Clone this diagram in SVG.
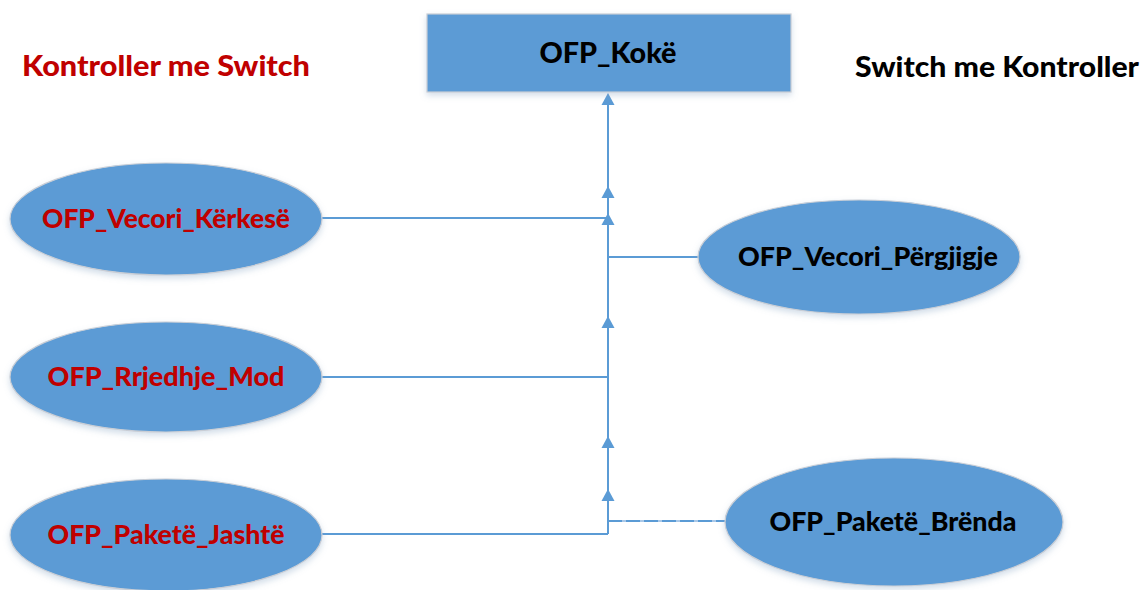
<svg xmlns="http://www.w3.org/2000/svg" xmlns:xlink="http://www.w3.org/1999/xlink" width="1147" height="590" viewBox="0 0 1147 590">
  <style>
    .shape { fill: #5B9BD5; stroke: #C9CED6; stroke-width: 1.2; filter: url(#soft); }
    .lbl { font-family: Lato, "Liberation Sans", sans-serif; font-weight: 900; text-anchor: middle; }
    .red { fill: #C00000; }
    .blk { fill: #000000; }
    .wire { stroke: #5B9BD5; stroke-width: 2; fill: none; }
    .head { fill: #5B9BD5; }
  </style>
  <defs>
    <filter id="soft" x="-10%" y="-10%" width="120%" height="130%">
      <feDropShadow dx="0" dy="3" stdDeviation="3" flood-color="#7f9fc0" flood-opacity="0.35"/>
    </filter>
    <!-- upward arrowhead, tip at origin -->
    <polygon id="up" class="head" points="0,0 -6.5,12 6.5,12"/>
  </defs>

  <rect width="1147" height="590" fill="#ffffff"/>

  <!-- side headings -->
  <text class="lbl red" x="166" y="76" font-size="29" textLength="288" lengthAdjust="spacingAndGlyphs">Kontroller me Switch</text>
  <text class="lbl blk" x="997" y="77" font-size="29" textLength="284" lengthAdjust="spacingAndGlyphs">Switch me Kontroller</text>

  <!-- connectors -->
  <g id="connectors">
    <line class="wire" x1="608" y1="534" x2="608" y2="96"/>
    <polyline class="wire" points="322,218 608,218"/>
    <polyline class="wire" points="608,257 698,257"/>
    <polyline class="wire" points="322,377 608,377"/>
    <polyline class="wire" points="322,534 608,534"/>
    <line x1="608" y1="521" x2="725" y2="521" stroke="#A9C8E8" stroke-width="2"/>
    <line class="wire" x1="608" y1="521" x2="725" y2="521" stroke-dasharray="14 4"/>
    <use xlink:href="#up" x="608" y="93"/>
    <use xlink:href="#up" x="608" y="186"/>
    <use xlink:href="#up" x="608" y="213"/>
    <use xlink:href="#up" x="608" y="316"/>
    <use xlink:href="#up" x="608" y="436"/>
    <use xlink:href="#up" x="608" y="489"/>
  </g>

  <g id="ofp-koke">
    <rect class="shape" x="427" y="14" width="364" height="78"/>
    <text class="lbl blk" x="608" y="63" font-size="29" textLength="137" lengthAdjust="spacingAndGlyphs">OFP_Kokë</text>
  </g>

  <g id="ofp-vecori-kerkese">
    <ellipse class="shape" cx="166" cy="219" rx="156" ry="56"/>
    <text class="lbl red" x="166" y="228" font-size="26" textLength="248" lengthAdjust="spacingAndGlyphs">OFP_Vecori_Kërkesë</text>
  </g>

  <g id="ofp-rrjedhje-mod">
    <ellipse class="shape" cx="166" cy="377" rx="156" ry="55"/>
    <text class="lbl red" x="166" y="386" font-size="26" textLength="237" lengthAdjust="spacingAndGlyphs">OFP_Rrjedhje_Mod</text>
  </g>

  <g id="ofp-pakete-jashte">
    <ellipse class="shape" cx="166" cy="535" rx="156" ry="56"/>
    <text class="lbl red" x="166" y="544" font-size="26" textLength="237" lengthAdjust="spacingAndGlyphs">OFP_Paketë_Jashtë</text>
  </g>

  <g id="ofp-vecori-pergjigje">
    <ellipse class="shape" cx="859" cy="257" rx="161" ry="57"/>
    <text class="lbl blk" x="868" y="266" font-size="26" textLength="260" lengthAdjust="spacingAndGlyphs">OFP_Vecori_Përgjigje</text>
  </g>

  <g id="ofp-pakete-brenda">
    <ellipse class="shape" cx="894" cy="522" rx="169" ry="64"/>
    <text class="lbl blk" x="893" y="531" font-size="26" textLength="247" lengthAdjust="spacingAndGlyphs">OFP_Paketë_Brënda</text>
  </g>
</svg>
